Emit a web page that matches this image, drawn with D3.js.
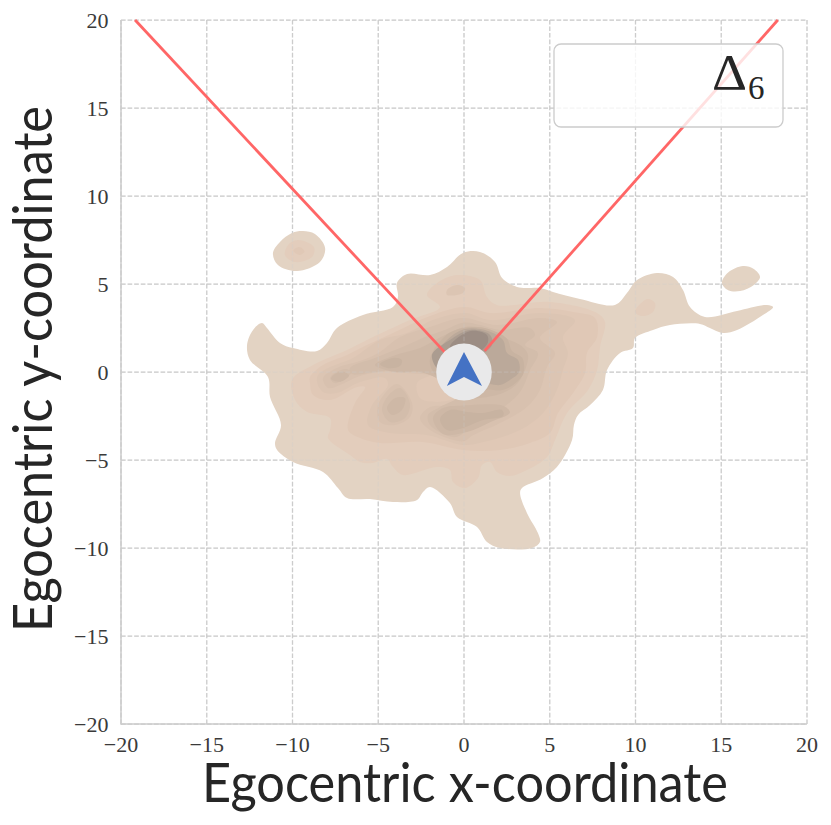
<!DOCTYPE html>
<html>
<head>
<meta charset="utf-8">
<script src="https://cdn.jsdelivr.net/npm/d3@7"></script>
<style>html,body{margin:0;padding:0;background:#fff;overflow:hidden}</style>
</head>
<body>
<svg id="chart" width="831" height="825"></svg>
<script>
const tickValues = [-20,-15,-10,-5,0,5,10,15,20];
const xLabel = "Egocentric x-coordinate";
const yLabel = "Egocentric y-coordinate";
const fovLeft = [[-19.18,20],[-1.1,1.1]];
const fovRight = [[18.3,20],[1.2,1.2]];
const agentCentre = [0,0];
const agentRadius = 1.62;
const agentArrow = [[0,1.14],[-1,-0.8],[0,-0.28],[1.05,-0.8]];

const outer = [[-11.78,2.78],[-11.49,2.5],[-10.73,1.65],[-9.97,1.36],[-8.57,1.19],[-7.99,1.65],[-7.41,2.5],[-5.89,3.24],[-4.14,3.69],[-3.85,4.26],[-3.91,5.06],[-3.32,5.57],[-1.98,5.51],[-0.99,5.97],[-0.06,6.76],[0.93,6.82],[1.81,6.25],[2.22,5.34],[3.09,4.83],[3.85,4.77],[4.43,4.77],[5.19,4.55],[6.76,4.15],[8.8,3.81],[9.5,4.49],[10.09,5.23],[11.25,5.63],[12.19,5.4],[12.77,4.66],[13.18,3.69],[14.05,3.13],[15.92,3.47],[17.67,3.81],[18.02,3.69],[17.43,3.24],[15.92,2.39],[15.1,2.22],[14.34,2.5],[13.76,2.73],[12.01,2.67],[11.02,2.39],[9.97,1.93],[9.85,1.36],[9.1,1.08],[8.34,0.11],[8.1,-1.02],[7.35,-1.88],[6.65,-2.44],[6.41,-3.01],[6.3,-3.86],[5.42,-5.4],[4.61,-6.02],[3.38,-6.59],[3.27,-6.88],[3.67,-8.01],[4.31,-9.15],[4.43,-9.66],[3.97,-10],[2.1,-10],[1.34,-9.66],[0.76,-8.81],[-0.41,-8.24],[-0.82,-7.44],[-1.98,-6.53],[-2.39,-6.82],[-2.74,-7.27],[-4.14,-7.39],[-5.48,-7.22],[-6.82,-7.16],[-7.35,-6.59],[-8.22,-5.68],[-9.97,-5.11],[-10.9,-4.43],[-11.02,-4.03],[-10.67,-3.01],[-11.31,-1.42],[-11.43,-0.28],[-12.48,0.68],[-12.65,1.53],[-12.3,2.39]];
const blobLeft = [[-9.39,8.01],[-8.69,7.84],[-8.1,7.05],[-8.4,6.25],[-9.74,5.74],[-10.85,6.08],[-11.14,6.76],[-10.73,7.39],[-10.03,7.9]];
const blobRight = [[16.27,6.02],[16.9,5.85],[17.26,5.4],[16.9,4.95],[16.1,4.6],[15.4,4.65],[15.04,5.06],[15.4,5.65]];

const level2 = [[-10.03,-0.45],[-9.85,-1.59],[-9.15,-2.27],[-7.81,-2.61],[-7.81,-3.3],[-7.93,-3.75],[-6.65,-4.72],[-6.06,-5.11],[-5.36,-5.17],[-4.49,-4.94],[-4.14,-5.4],[-3.56,-5.85],[-1.57,-5.4],[-0.82,-5.57],[-0.64,-6.25],[0.06,-6.59],[0.82,-6.02],[1.05,-5.28],[1.52,-5.11],[1.92,-5.68],[2.68,-5.91],[3.67,-5.57],[4.84,-4.83],[5.31,-3.86],[6.01,-2.33],[7.23,-1.02],[7.76,0.11],[7.93,1.42],[8.22,2.84],[7.76,3.35],[5.01,3.98],[1.92,3.81],[1.34,4.26],[0.93,5.23],[-0.41,5.51],[-1.57,5.06],[-2.16,4.38],[-1.4,3.69],[-3.15,2.95],[-5.66,1.82],[-6.82,1.25],[-8.8,0.4]];
const level2Left = [[-9.68,7.5],[-8.75,7.1],[-8.86,6.53],[-9.85,6.25],[-10.44,6.65],[-10.26,7.22]];
const level2Right = [[9.97,3.41],[10.67,4.15],[11.14,3.92],[11.02,3.41],[10.38,3.18]];

const level3 = [[-8.98,-0.63],[-8.8,-1.31],[-7.81,-1.59],[-6.24,-0.85],[-5.77,-0.85],[-6.36,-1.76],[-6.76,-3.3],[-6.06,-3.75],[-4.9,-4.03],[-2.39,-3.98],[-0.06,-4.43],[2.1,-4.43],[3.85,-4.03],[5.01,-3.47],[5.48,-2.33],[6.36,-1.19],[7.06,-0.06],[7.17,1.08],[7.76,1.99],[7.64,3.07],[6.36,3.41],[4.43,3.64],[1.52,3.35],[0.06,3.69],[-1.98,3.18],[-4.02,2.27],[-5.66,1.53],[-6.82,0.97],[-8.22,0.4],[-8.98,-0.28]];
const level3Left = [[-9.95,6.9],[-9.6,7.1],[-9.3,6.85],[-9.6,6.65]];

const level4 = [[-8.57,-0.57],[-8.22,-1.14],[-7.41,-1.19],[-6.06,-0.57],[-4.61,-0.34],[-4.43,-0.74],[-5.36,-1.88],[-5.6,-3.01],[-4.31,-3.47],[-2.16,-3.58],[-0.06,-4.15],[1.11,-3.98],[3.27,-3.3],[4.61,-2.33],[5.42,-1.02],[5.77,0.11],[6.06,1.08],[5.77,1.99],[6.47,2.95],[4.43,3.35],[1.52,2.95],[0.06,3.35],[-1.81,2.95],[-3.32,2.22],[-4.9,1.82],[-6.47,0.8],[-7.81,0.28],[-8.51,-0.17]];
const level4Lobe = [[-0.99,4.66],[-0.41,4.94],[0.06,4.77],[-0.06,4.49],[-0.99,4.38]];
const level4Hole = [[-2.74,-0.63],[-2.57,-1.48],[-1.57,-1.7],[-0.41,-1.48],[0.17,-1.02],[-0.99,-0.06],[-2.16,-0.28]];

const level5 = [[-8.22,-0.34],[-7.93,-0.91],[-7.23,-0.74],[-6.24,-0.28],[-4.9,0],[-3.44,-0.06],[-1.4,-0.34],[-0.12,-1.59],[-0.82,-1.88],[-1.98,-1.99],[-2.57,-2.61],[-1.98,-3.3],[-0.06,-3.94],[0.52,-3.6],[2.1,-2.9],[3.67,-1.99],[4.43,-1.02],[4.84,0.28],[5.31,1.08],[4.43,1.93],[5.42,2.84],[4.43,3.07],[1.92,2.67],[-0.06,3.07],[-1.98,2.56],[-3.73,1.99],[-4.9,1.14],[-5.89,0.68],[-7.41,0.23]];
const level5Tear = [[-3.91,-0.68],[-3.03,-1.76],[-3.15,-2.56],[-4.02,-3.01],[-4.9,-2.84],[-5.01,-1.88]];

const level6 = [[-6.53,-0.11],[-5.19,0],[-3.73,0.11],[-1.98,-0.17],[-0.23,-1.31],[-1.4,-1.99],[-2.1,-2.44],[-1.98,-3.01],[-0.52,-3.7],[0.35,-3.2],[2.1,-2.16],[3.27,-1.14],[3.85,0.11],[4.31,1.08],[3.56,1.53],[4.14,2.1],[3.85,2.5],[2.1,2.39],[0.93,2.67],[-0.06,2.8],[-1.11,2.39],[-1.98,2.1],[-3.73,1.36],[-5.19,0.8],[-6.65,0.23]];
const level6Node = [[-7.81,-0.34],[-7.52,-0.63],[-6.82,-0.28],[-6.53,0],[-6.94,0.17],[-7.52,-0.06]];
const level6Tear = [[-3.73,-0.91],[-3.15,-1.82],[-3.44,-2.61],[-4.31,-2.84],[-4.78,-2.16],[-4.43,-1.36]];

const level7 = [[-5.19,0.4],[-4.14,0.91],[-2.57,1.36],[-1.11,2.1],[0.06,2.56],[1.4,2.44],[2.39,1.93],[3.27,1.53],[3.73,0.97],[3.27,-0.45],[2.39,-1.14],[0.93,-1.48],[-0.12,-1.48],[-1.4,-0.45],[-2.57,0],[-4.02,0]];
const level7Bottom = [[-1.81,-2.61],[-1.22,-2.05],[-0.06,-1.9],[2.27,-1.92],[2.68,-2.3],[1.52,-2.85],[0.17,-3.41],[-1.22,-3.52]];
const level7Node = [[-7.75,-0.4],[-7.2,-0.55],[-6.7,-0.2],[-7,0],[-7.5,-0.1]];
const level7Tear = [[-3.44,-1.48],[-3.62,-2.16],[-4.2,-2.44],[-4.49,-2.05],[-4.02,-1.48]];

const level8Bottom = [[-1.4,-2.67],[-0.82,-2.16],[0.17,-2.27],[1.11,-2.33],[2.22,-2.16],[2.28,-2.5],[1.11,-2.73],[-0.06,-3.18],[-0.99,-3.3]];
const level8Strip = [[-4.9,0.45],[-4.14,0.8],[-3.62,0.68],[-3.73,0.34],[-4.49,0.23]];
const level8Mass = [[-2.0,0.6],[-1.1,2.05],[0.06,2.52],[1.5,2.42],[2.5,1.9],[2.8,1.2],[3.4,0.8],[3.45,-0.1],[2.85,-0.75],[2.1,-1.05],[1.4,-1.0],[0.35,-1.3],[-1.3,-0.55]];

const level9 = [[-1.69,0.8],[-0.99,1.82],[0.06,2.44],[1.4,2.33],[2.27,1.82],[2.51,1.08],[3.15,0.68],[3.21,0],[2.68,-0.45],[2.1,-0.74],[1.4,-0.68],[0.35,-1.02],[-1.11,-0.34]];
const level10 = [[-1.87,0.97],[-0.82,1.82],[0.35,2.39],[1.52,2.1],[1.63,1.53],[0.93,0.97],[-0.2,0.7],[-1.4,0.1]];
const level11 = [[-0.82,1.42],[0.06,2.22],[0.76,2.33],[1.34,2.1],[1.4,1.7],[1.05,1.25],[0.06,0.8]];

const kdeLayers = [
  {rings:[outer,blobLeft,blobRight], fill:"#e3d3c3"},
  {rings:[level2,level2Left,level2Right], fill:"#e3cdbc"},
  {rings:[level3,level3Left], fill:"#e0c8b6"},
  {rings:[level4,level4Lobe], fill:"#dcc5b3"},
  {rings:[level4Hole], fill:"#e0c8b6"},
  {rings:[level5,level5Tear], fill:"#d8c1af"},
  {rings:[level6,level6Node,level6Tear], fill:"#d3bdab"},
  {rings:[level7,level7Bottom,level7Node,level7Tear], fill:"#ceb8a6"},
  {rings:[level8Bottom,level8Strip,level8Mass], fill:"#c8b3a1"},
  {rings:[level9], fill:"#bba99a"},
  {rings:[level10], fill:"#ab9c90"},
  {rings:[level11], fill:"#9c8d84"}
];

const svg = d3.select("#chart");
const x = d3.scaleLinear().domain([-20,20]).range([121,807]);
const y = d3.scaleLinear().domain([-20,20]).range([724,20]);
const serif = "'Liberation Serif','DejaVu Serif',serif";
const sans = "Lato,'Open Sans',sans-serif";

function drawGrid(opacity){
  const g = svg.append("g").attr("stroke","#cccccc").attr("stroke-width",1.25)
    .attr("stroke-dasharray","4.6,2").attr("stroke-opacity",opacity).attr("fill","none");
  tickValues.forEach(v=>{
    g.append("line").attr("x1",x(v)).attr("x2",x(v)).attr("y1",y(-20)).attr("y2",y(20));
    g.append("line").attr("x1",x(-20)).attr("x2",x(20)).attr("y1",y(v)).attr("y2",y(v));
  });
}
drawGrid(1);

const ring = d3.line().x(d=>x(d[0])).y(d=>y(d[1])).curve(d3.curveCatmullRomClosed.alpha(0.5));
const kde = svg.append("g");
kdeLayers.forEach(l=>{
  kde.selectAll(null).data(l.rings).join("path").attr("d",ring).attr("fill",l.fill);
});
drawGrid(0.3);

// spines
const ax = svg.append("g").attr("stroke","#cccccc").attr("stroke-width",1.5);
ax.append("line").attr("x1",x(-20)).attr("x2",x(-20)).attr("y1",y(20)).attr("y2",y(-20)+0.75);
ax.append("line").attr("x1",x(-20)).attr("x2",x(20)).attr("y1",y(-20)).attr("y2",y(-20));

// field-of-view lines
const seg = d3.line().x(d=>x(d[0])).y(d=>y(d[1]));
[fovLeft,fovRight].forEach(s=>{
  svg.append("path").attr("d",seg(s)).attr("fill","none").attr("stroke","#ff6666").attr("stroke-width",2.8);
});

// agent
svg.append("ellipse").attr("cx",x(agentCentre[0])).attr("cy",y(agentCentre[1]))
  .attr("rx",x(agentRadius)-x(0)).attr("ry",y(0)-y(agentRadius)).attr("fill","#e9e9ea");
svg.append("path").attr("d",seg(agentArrow)+"Z").attr("fill","#4472c4");

// legend
svg.append("rect").attr("x",554).attr("y",44).attr("width",229).attr("height",83).attr("rx",7)
  .attr("fill","#fff").attr("fill-opacity",0.8).attr("stroke","#cccccc").attr("stroke-width",1.3);
svg.append("text").attr("x",712).attr("y",89).attr("font-family",serif).attr("font-size",50)
  .attr("textLength",35).attr("lengthAdjust","spacingAndGlyphs").attr("fill","#262626").text("Δ");
svg.append("text").attr("x",748).attr("y",99).attr("font-family",serif).attr("font-size",33).attr("fill","#262626").text("6");

// ticks
const fmt = d=>d<0?"\u2212"+(-d):""+d;
svg.append("g").selectAll("text").data(tickValues).join("text")
  .attr("x",d=>x(d)).attr("y",752).attr("text-anchor","middle")
  .attr("font-family",serif).attr("font-size",22).attr("fill","#3a3a3a").text(fmt);
svg.append("g").selectAll("text").data(tickValues).join("text")
  .attr("x",108.5).attr("y",d=>y(d)+8).attr("text-anchor","end")
  .attr("font-family",serif).attr("font-size",22).attr("fill","#3a3a3a").text(fmt);

// titles
svg.append("text").attr("x",465).attr("y",802).attr("text-anchor","middle")
  .attr("font-family",sans).attr("font-size",54).attr("textLength",526).attr("lengthAdjust","spacingAndGlyphs")
  .attr("fill","#262626").text(xLabel);
svg.append("text").attr("transform","translate(52,369) rotate(-90)").attr("text-anchor","middle")
  .attr("font-family",sans).attr("font-size",54).attr("textLength",526).attr("lengthAdjust","spacingAndGlyphs")
  .attr("fill","#262626").text(yLabel);
</script>
</body>
</html>
